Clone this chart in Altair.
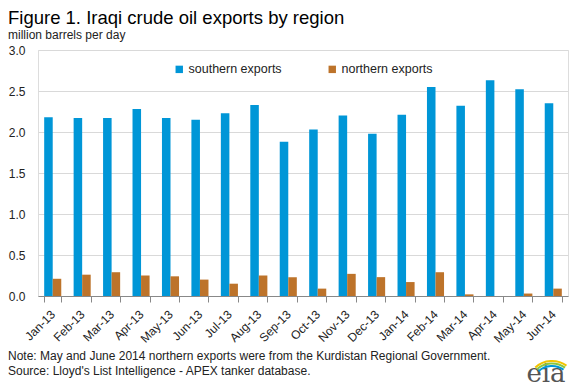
import altair as alt
import pandas as pd

months = ["Jan-13", "Feb-13", "Mar-13", "Apr-13", "May-13", "Jun-13", "Jul-13", "Aug-13", "Sep-13",
          "Oct-13", "Nov-13", "Dec-13", "Jan-14", "Feb-14", "Mar-14", "Apr-14", "May-14", "Jun-14"]
southern = [2.18, 2.17, 2.17, 2.28, 2.17, 2.15, 2.23, 2.33, 1.88,
            2.03, 2.20, 1.98, 2.21, 2.55, 2.32, 2.63, 2.52, 2.35]
northern = [0.21, 0.26, 0.29, 0.25, 0.24, 0.20, 0.15, 0.25, 0.23,
            0.09, 0.27, 0.23, 0.17, 0.29, 0.02, 0.00, 0.03, 0.09]
series = ["southern exports", "northern exports"]
colors = ["#0096d7", "#bd732a"]

title_text = "Figure 1. Iraqi crude oil exports by region"
unit_text = "million barrels  per day"
note_lines = ["Note: May  and June 2014 northern exports were from the Kurdistan Regional Government.",
              "Source: Lloyd's List Intelligence - APEX  tanker database."]

rows = []
for m, s, n in zip(months, southern, northern):
    rows.append({"month": m, "series": series[0], "value": s})
    rows.append({"month": m, "series": series[1], "value": n})
df = pd.DataFrame(rows)

FONT = "Arial, Liberation Sans, sans-serif"
W, H = 530, 246

bars = alt.Chart(df).mark_bar().encode(
    x=alt.X("month:N", sort=months, title=None,
            scale=alt.Scale(paddingInner=0.42, paddingOuter=0.21),
            axis=alt.Axis(labelAngle=-45, labelAlign="right", labelBaseline="middle",
                          labelFont=FONT, labelFontSize=12, labelColor="#222",
                          labelPadding=10, tickBand="extent", tickColor="#888",
                          tickSize=6, domainColor="#888", grid=False)),
    xOffset=alt.XOffset("series:N", sort=series),
    y=alt.Y("value:Q", title=None,
            scale=alt.Scale(domain=[0, 3.0]),
            axis=alt.Axis(values=[0, 0.5, 1.0, 1.5, 2.0, 2.5, 3.0], format=".1f",
                          labelFont=FONT, labelFontSize=12, labelColor="#222",
                          labelPadding=13, ticks=False, domain=False,
                          gridColor="#d9d9d9", gridWidth=1)),
    color=alt.Color("series:N", sort=series,
                    scale=alt.Scale(domain=series, range=colors),
                    legend=alt.Legend(title=None, orient="none", direction="horizontal",
                                      legendX=135, legendY=13, symbolType="square",
                                      symbolSize=55, symbolStrokeWidth=0,
                                      labelFont=FONT, labelFontSize=12.5, labelColor="#222",
                                      columnPadding=44, labelOffset=3)),
)

def txt(t, x, y, size, **kw):
    return alt.Chart(pd.DataFrame({"t": [t]})).mark_text(
        align=kw.get("align", "left"), baseline="middle",
        font=kw.get("font", FONT), fontSize=size, color=kw.get("color", "#222")
    ).encode(text="t:N", x=alt.value(x), y=alt.value(y))

title = txt(title_text, -30, -32, 18.5, color="#000")
unit = txt(unit_text, -30, -15, 12)
note1 = txt(note_lines[0], -30, 306, 12)
note2 = txt(note_lines[1], -30, 321, 12)
logo = txt("eia", 508, 324, 26, align="center", font="DejaVu Serif, serif", color="#555")

arc_df = pd.DataFrame({"a": [0]})
arcs = []
for col, r in [("#f2c300", 26), ("#8cc63f", 23.5), ("#0096d7", 21)]:
    arcs.append(alt.Chart(arc_df).mark_arc(color=col).encode(
        x=alt.value(514), y=alt.value(336),
        radius=alt.value(r), radius2=alt.value(r - 2),
        theta=alt.value(5.55), theta2=alt.value(6.9)))

chart = alt.layer(bars, title, unit, note1, note2, logo, *arcs).properties(
    width=W, height=H,
    autosize=alt.AutoSizeParams(type="none"),
    padding={"left": 30, "top": 42, "right": 3, "bottom": 91},
).configure_view(stroke=None).configure(background="white")

chart.save("out.html", embed_options={"renderer": "svg", "actions": False})
